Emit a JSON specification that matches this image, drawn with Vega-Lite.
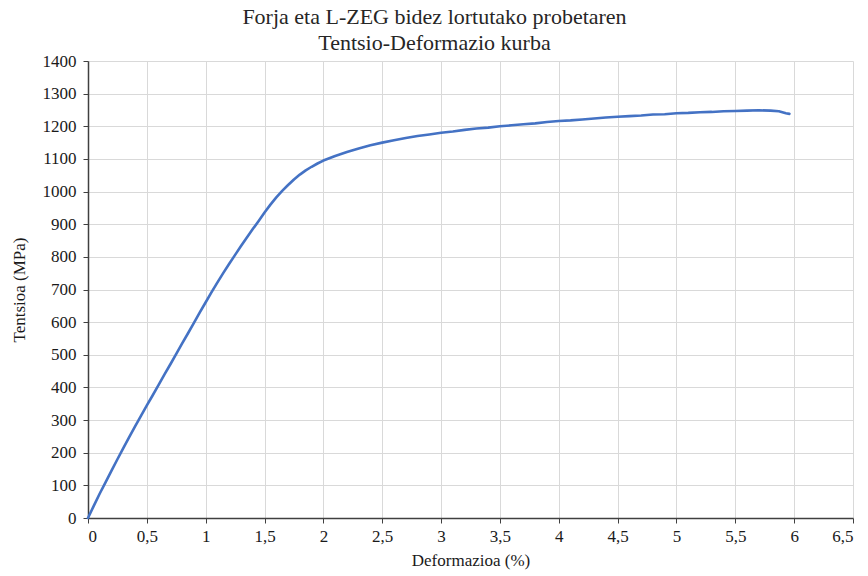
{
  "$schema": "https://vega.github.io/schema/vega-lite/v6.json",
  "width": 765,
  "height": 457,
  "autosize": {"type": "none"},
  "padding": {"left": 88, "top": 61, "right": 15, "bottom": 58},
  "background": "white",
  "title": {
    "text": ["Forja eta L-ZEG bidez lortutako probetaren", "Tentsio-Deformazio kurba"],
    "font": "Liberation Serif",
    "fontSize": 22,
    "fontWeight": "normal",
    "color": "#262626",
    "lineHeight": 26,
    "offset": -3,
    "dx": -36,
    "anchor": "middle"
  },
  "data": {
    "values": [
      {"x": 0.0, "y": 0},
      {"x": 0.05, "y": 38},
      {"x": 0.1, "y": 75},
      {"x": 0.15, "y": 110},
      {"x": 0.2, "y": 145},
      {"x": 0.25, "y": 180},
      {"x": 0.3, "y": 214},
      {"x": 0.35, "y": 248},
      {"x": 0.4, "y": 281},
      {"x": 0.45, "y": 313},
      {"x": 0.5, "y": 345},
      {"x": 0.55, "y": 376},
      {"x": 0.6, "y": 408},
      {"x": 0.65, "y": 440},
      {"x": 0.7, "y": 471},
      {"x": 0.75, "y": 503},
      {"x": 0.8, "y": 535},
      {"x": 0.85, "y": 566},
      {"x": 0.9, "y": 598},
      {"x": 0.95, "y": 630},
      {"x": 1.0, "y": 661},
      {"x": 1.05, "y": 692},
      {"x": 1.1, "y": 722},
      {"x": 1.15, "y": 751},
      {"x": 1.2, "y": 779},
      {"x": 1.25, "y": 806},
      {"x": 1.3, "y": 833},
      {"x": 1.35, "y": 859},
      {"x": 1.4, "y": 885},
      {"x": 1.45, "y": 910},
      {"x": 1.5, "y": 936},
      {"x": 1.55, "y": 960},
      {"x": 1.6, "y": 982},
      {"x": 1.65, "y": 1002},
      {"x": 1.7, "y": 1020},
      {"x": 1.75, "y": 1037},
      {"x": 1.8, "y": 1052},
      {"x": 1.85, "y": 1065},
      {"x": 1.9, "y": 1076},
      {"x": 1.95, "y": 1086},
      {"x": 2.0, "y": 1095},
      {"x": 2.05, "y": 1102},
      {"x": 2.1, "y": 1109},
      {"x": 2.15, "y": 1115},
      {"x": 2.2, "y": 1121},
      {"x": 2.3, "y": 1132},
      {"x": 2.4, "y": 1142},
      {"x": 2.5, "y": 1150},
      {"x": 2.6, "y": 1157},
      {"x": 2.7, "y": 1164},
      {"x": 2.8, "y": 1170},
      {"x": 2.9, "y": 1175},
      {"x": 3.0, "y": 1180},
      {"x": 3.1, "y": 1184},
      {"x": 3.2, "y": 1189},
      {"x": 3.3, "y": 1193},
      {"x": 3.4, "y": 1196},
      {"x": 3.5, "y": 1200},
      {"x": 3.6, "y": 1203},
      {"x": 3.7, "y": 1206},
      {"x": 3.8, "y": 1209},
      {"x": 3.9, "y": 1213},
      {"x": 4.0, "y": 1216},
      {"x": 4.1, "y": 1218},
      {"x": 4.2, "y": 1221},
      {"x": 4.3, "y": 1224},
      {"x": 4.4, "y": 1227},
      {"x": 4.5, "y": 1229},
      {"x": 4.6, "y": 1231},
      {"x": 4.7, "y": 1233},
      {"x": 4.8, "y": 1236},
      {"x": 4.9, "y": 1237},
      {"x": 5.0, "y": 1240},
      {"x": 5.1, "y": 1241},
      {"x": 5.2, "y": 1243},
      {"x": 5.3, "y": 1244},
      {"x": 5.4, "y": 1246},
      {"x": 5.5, "y": 1247},
      {"x": 5.6, "y": 1248},
      {"x": 5.7, "y": 1249},
      {"x": 5.8, "y": 1248},
      {"x": 5.87, "y": 1246},
      {"x": 5.93, "y": 1240},
      {"x": 5.96, "y": 1238}
    ]
  },
  "mark": {"type": "line", "color": "#4472C4", "strokeWidth": 2.6, "strokeJoin": "round", "strokeCap": "round"},
  "encoding": {
    "x": {
      "field": "x",
      "type": "quantitative",
      "scale": {"domain": [0, 6.5], "nice": false, "zero": true},
      "axis": {
        "title": "Deformazioa (%)",
        "values": [0, 0.5, 1, 1.5, 2, 2.5, 3, 3.5, 4, 4.5, 5, 5.5, 6, 6.5],
        "labelExpr": "replace(toString(datum.value), '.', ',')",
        "labelFont": "Liberation Serif",
        "titleFont": "Liberation Serif",
        "labelFontSize": 17,
        "titleFontSize": 17,
        "titlePadding": 8,
        "labelPadding": 5
      }
    },
    "y": {
      "field": "y",
      "type": "quantitative",
      "scale": {"domain": [0, 1400], "nice": false},
      "axis": {
        "title": "Tentsioa (MPa)",
        "values": [0, 100, 200, 300, 400, 500, 600, 700, 800, 900, 1000, 1100, 1200, 1300, 1400],
        "format": "d",
        "labelFont": "Liberation Serif",
        "titleFont": "Liberation Serif",
        "labelFontSize": 17,
        "titleFontSize": 17,
        "titlePadding": 14,
        "labelPadding": 7
      }
    }
  },
  "config": {
    "view": {"stroke": null},
    "style": {"guide-label": {"font": "Liberation Serif"}, "guide-title": {"font": "Liberation Serif"}},
    "axis": {
      "titleFontWeight": "normal",
      "labelColor": "#1a1a1a",
      "titleColor": "#1a1a1a",
      "gridColor": "#d9d9d9",
      "gridWidth": 1,
      "domainColor": "#404040",
      "domainWidth": 1.5,
      "tickColor": "#404040",
      "tickSize": 5,
      "tickWidth": 1
    }
  }
}
